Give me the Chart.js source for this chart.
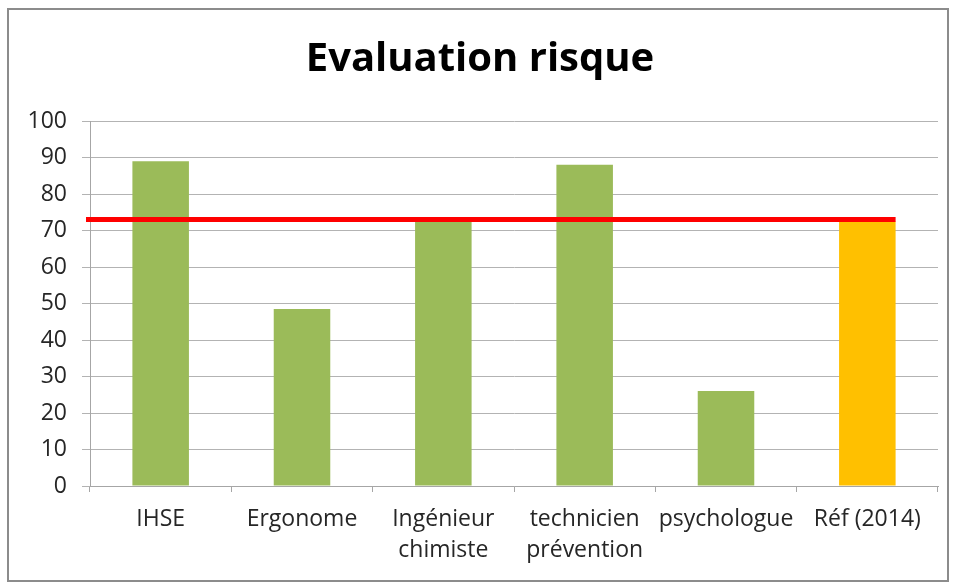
<!DOCTYPE html>
<html>
<head>
<meta charset="utf-8">
<script src="https://cdn.jsdelivr.net/npm/chart.js@4"></script>
<style>
  body { margin: 0; background: #fff; }
  #frame {
    position: absolute; left: 7px; top: 8px;
    width: 942px; height: 574px;
    border: 2px solid #8c8c8c; box-sizing: border-box;
  }
  #wrap { position: absolute; left: 0; top: 0; width: 957px; height: 585px; }
</style>
</head>
<body>
<div id="frame"></div>
<div id="wrap"><canvas id="riskChart" width="957" height="585"></canvas></div>
<script>
// Evaluation data
const categories = ["IHSE", "Ergonome", ["Ingénieur", "chimiste"], ["technicien", "prévention"], "psychologue", "Réf (2014)"];
const scores = [89, 48.5, 72.5, 88, 26, 72.5];
const barColors = ["#9bbb59", "#9bbb59", "#9bbb59", "#9bbb59", "#9bbb59", "#ffc000"];
const refLevel = 73;

const fontFamily = "'Open Sans', 'Liberation Sans', sans-serif";

// red reference line from the y axis to the right side of the last bar
const refLinePlugin = {
  id: "refLine",
  afterDatasetsDraw(chart) {
    const ctx = chart.ctx;
    const y = chart.scales.y.getPixelForValue(refLevel);
    const bars = chart.getDatasetMeta(0).data;
    const last = bars[bars.length - 1];
    ctx.save();
    ctx.strokeStyle = "#ff0000";
    ctx.lineWidth = 5;
    ctx.beginPath();
    ctx.moveTo(chart.chartArea.left - 4, y);
    ctx.lineTo(last.x + last.width / 2, y);
    ctx.stroke();
    ctx.restore();
  },
};

const ctx = document.getElementById("riskChart").getContext("2d");
const riskChart = new Chart(ctx, {
  type: "bar",
  data: {
    labels: categories,
    datasets: [
      {
        label: "Evaluation risque",
        data: scores,
        backgroundColor: barColors,
        borderWidth: 0,
        categoryPercentage: 1,
        barPercentage: 0.4,
      },
    ],
  },
  options: {
    responsive: false,
    animation: false,
    layout: { padding: { left: 22, right: 19, top: 36, bottom: 20 } },
    plugins: {
      legend: { display: false },
      tooltip: { enabled: false },
      title: {
        display: true,
        text: "Evaluation risque",
        color: "#000",
        font: { family: fontFamily, size: 40, weight: "bold", lineHeight: 1.2 },
        padding: { top: 0, bottom: 37 },
      },
    },
    scales: {
      x: {
        grid: {
          offset: true,
          drawOnChartArea: false,
          color: "#a6a6a6",
          tickLength: 6,
        },
        border: { color: "#a6a6a6", width: 1 },
        ticks: {
          color: "#262626",
          font: { family: fontFamily, size: 23, lineHeight: 1.35 },
          padding: 12,
          maxRotation: 0,
          autoSkip: false,
        },
        afterFit: (scale) => { scale.height = 79; },
      },
      y: {
        min: 0,
        max: 100,
        ticks: {
          stepSize: 10,
          color: "#262626",
          font: { family: fontFamily, size: 23 },
          padding: 15,
        },
        grid: { color: "#b3b3b3", tickLength: 8 },
        border: { color: "#a6a6a6", width: 1 },
        afterFit: (scale) => { scale.width = 68; },
      },
    },
  },
  plugins: [refLinePlugin],
});
</script>
</body>
</html>
